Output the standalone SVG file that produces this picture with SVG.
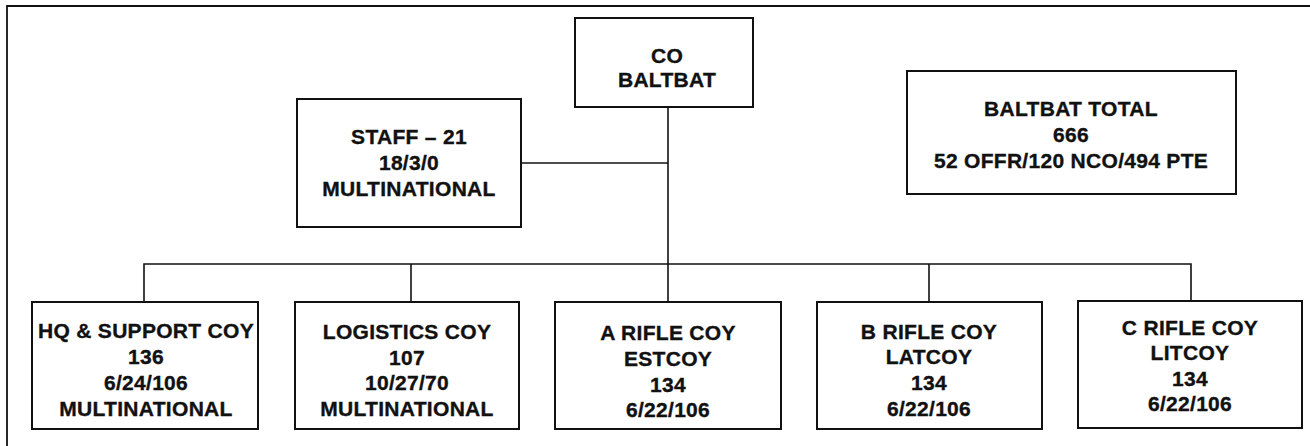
<svg xmlns="http://www.w3.org/2000/svg" width="1310" height="446" viewBox="0 0 1310 446">
  <style>
    .box { fill: #ffffff; stroke: #111111; stroke-width: 2; }
    .conn { fill: none; stroke: #111111; stroke-width: 1.6; }
    .frame { fill: none; stroke: #111111; stroke-width: 1.8; }
    text { font-family: "Liberation Sans", Arial, sans-serif; font-weight: bold; font-size: 21px; fill: #111111; stroke: #111111; stroke-width: 0.35px; text-anchor: middle; letter-spacing: 0.3px; }
  </style>
  <rect x="0" y="0" width="1310" height="446" fill="#ffffff"/>
  <g id="frame">
    <path class="frame" d="M7,446 V6 H1310"/>
  </g>
  <g id="connectors">
    <path class="conn" d="M668,107 V302"/>
    <path class="conn" d="M521,163 H668"/>
    <path class="conn" d="M144,302 V264 H1191 V302"/>
    <path class="conn" d="M411,264 V302"/>
    <path class="conn" d="M929,264 V302"/>
  </g>
  <g id="co">
    <rect class="box" x="575" y="18" width="178" height="89"/>
    <text x="667" y="63">CO</text>
    <text x="667" y="87">BALTBAT</text>
  </g>
  <g id="staff">
    <rect class="box" x="297" y="99" width="224" height="128"/>
    <text x="409" y="144">STAFF – 21</text>
    <text x="409" y="170">18/3/0</text>
    <text x="409" y="196">MULTINATIONAL</text>
  </g>
  <g id="total">
    <rect class="box" x="907" y="71" width="329" height="123"/>
    <text x="1071" y="116">BALTBAT TOTAL</text>
    <text x="1071" y="142">666</text>
    <text x="1071" y="168">52 OFFR/120 NCO/494 PTE</text>
  </g>
  <g id="hq">
    <rect class="box" x="32" y="302" width="226" height="127"/>
    <text x="146" y="338">HQ &amp; SUPPORT COY</text>
    <text x="146" y="364">136</text>
    <text x="146" y="390">6/24/106</text>
    <text x="146" y="416">MULTINATIONAL</text>
  </g>
  <g id="logistics">
    <rect class="box" x="295" y="302" width="224" height="127"/>
    <text x="407" y="339">LOGISTICS COY</text>
    <text x="407" y="365">107</text>
    <text x="407" y="390">10/27/70</text>
    <text x="407" y="416">MULTINATIONAL</text>
  </g>
  <g id="a-rifle">
    <rect class="box" x="555" y="302" width="226" height="127"/>
    <text x="668" y="340">A RIFLE COY</text>
    <text x="668" y="366">ESTCOY</text>
    <text x="668" y="392">134</text>
    <text x="668" y="417">6/22/106</text>
  </g>
  <g id="b-rifle">
    <rect class="box" x="817" y="302" width="225" height="127"/>
    <text x="929" y="339">B RIFLE COY</text>
    <text x="929" y="364">LATCOY</text>
    <text x="929" y="390">134</text>
    <text x="929" y="416">6/22/106</text>
  </g>
  <g id="c-rifle">
    <rect class="box" x="1078" y="301" width="224" height="127"/>
    <text x="1190" y="335">C RIFLE COY</text>
    <text x="1190" y="360">LITCOY</text>
    <text x="1190" y="386">134</text>
    <text x="1190" y="411">6/22/106</text>
  </g>
</svg>
